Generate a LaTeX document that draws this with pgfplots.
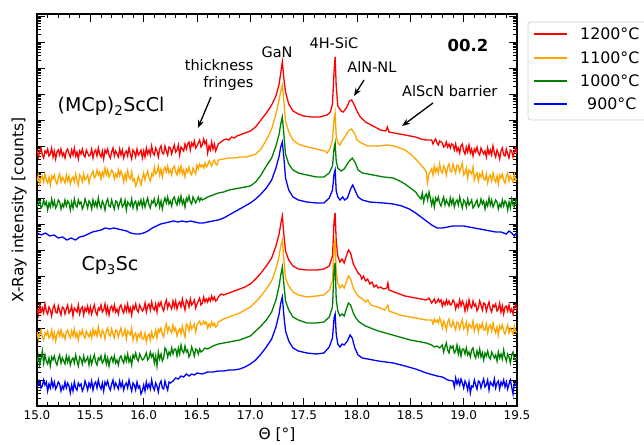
\documentclass[border=0pt]{standalone}
\usepackage{fontspec}
\setmainfont{DejaVu Sans}
\usepackage{pgfplots}
\pgfplotsset{compat=1.18}
\usetikzlibrary{arrows.meta}
\definecolor{cred}{RGB}{255,0,0}
\definecolor{corange}{RGB}{255,165,0}
\definecolor{cgreen}{RGB}{0,128,0}
\definecolor{cblue}{RGB}{0,0,255}

% (MCp)2ScCl, 1200 C
\pgfplotstableread[row sep=\\]{x y\\
15.0000 256\\15.0125 249\\15.0250 254\\15.0375 258\\15.0500 251\\15.0625 248\\15.0750 255\\15.0875 253\\
15.1000 257\\15.1125 250\\15.1250 252\\15.1375 258\\15.1500 249\\15.1625 255\\15.1750 247\\15.1875 254\\
15.2000 256\\15.2125 251\\15.2250 257\\15.2375 250\\15.2500 253\\15.2625 248\\15.2750 255\\15.2875 257\\
15.3000 252\\15.3125 249\\15.3250 256\\15.3375 251\\15.3500 258\\15.3625 250\\15.3750 254\\15.3875 247\\
15.4000 255\\15.4125 252\\15.4250 257\\15.4375 251\\15.4500 249\\15.4625 256\\15.4750 253\\15.4875 250\\
15.5000 251\\15.5125 257\\15.5250 248\\15.5375 254\\15.5500 256\\15.5625 250\\15.5750 258\\15.5875 252\\
15.6000 249\\15.6125 255\\15.6250 247\\15.6375 256\\15.6500 253\\15.6625 257\\15.6750 251\\15.6875 248\\
15.7000 254\\15.7125 258\\15.7250 250\\15.7375 255\\15.7500 252\\15.7625 249\\15.7750 257\\15.7875 251\\
15.8000 256\\15.8125 248\\15.8250 253\\15.8375 255\\15.8500 250\\15.8625 258\\15.8750 252\\15.8875 247\\
15.9000 256\\15.9125 254\\15.9250 249\\15.9375 257\\15.9500 251\\15.9625 253\\15.9750 256\\15.9875 248\\
16.0000 255\\16.0125 249\\16.0250 258\\16.0375 252\\16.0500 256\\16.0625 251\\16.0750 260\\16.0875 253\\
16.1000 251\\16.1125 258\\16.1250 255\\16.1375 249\\16.1500 257\\16.1625 260\\16.1750 253\\16.1875 252\\
16.2000 260\\16.2125 255\\16.2250 251\\16.2375 259\\16.2500 258\\16.2625 252\\16.2750 257\\16.2875 261\\
16.3000 254\\16.3125 256\\16.3250 261\\16.3375 251\\16.3500 259\\16.3625 257\\16.3750 255\\16.3875 262\\
16.4000 257\\16.4125 262\\16.4250 264\\16.4375 256\\16.4500 263\\16.4625 260\\16.4750 265\\16.4875 258\\
16.5000 260\\16.5125 263\\16.5250 266\\16.5375 259\\16.5500 261\\16.5625 267\\16.5750 262\\16.5875 265\\
16.6000 253\\16.6125 260\\16.6250 256\\16.6375 264\\16.6500 257\\16.6625 262\\
16.675 255\\16.700 262\\16.725 264\\16.750 266\\16.775 267\\16.800 266\\16.825 269\\16.850 268\\
16.875 270\\16.900 271\\16.950 273\\17.000 275\\17.050 279\\17.100 286\\17.150 293\\17.200 301\\
17.240 310\\17.270 322\\17.285 333\\17.300 344\\17.315 327\\17.330 314\\17.360 302\\17.400 295\\
17.450 292\\17.500 290\\17.570 289\\17.650 289\\17.720 291\\17.750 294\\17.770 302\\17.785 335\\
17.795 349\\17.805 320\\17.820 300\\17.850 295\\17.870 294\\17.900 298\\17.930 305\\17.950 306\\
17.970 302\\18.000 295\\18.030 289\\18.080 284\\18.150 280\\18.220 276\\18.270 275\\18.285 279\\
18.300 274\\18.350 273\\18.400 272\\18.450 271\\18.500 270\\18.550 269\\18.600 267\\18.650 266\\
18.7000 266\\18.7125 262\\18.7250 265\\18.7375 267\\18.7500 263\\18.7625 261\\18.7750 265\\18.7875 264\\
18.8000 263\\18.8125 259\\18.8250 260\\18.8375 264\\18.8500 259\\18.8625 262\\18.8750 258\\18.8875 262\\
18.9000 261\\18.9125 256\\18.9250 262\\18.9375 255\\18.9500 258\\18.9625 253\\18.9750 260\\18.9875 262\\
19.0000 255\\19.0125 252\\19.0250 259\\19.0375 254\\19.0500 261\\19.0625 253\\19.0750 257\\19.0875 250\\
19.1000 257\\19.1125 254\\19.1250 259\\19.1375 253\\19.1500 251\\19.1625 258\\19.1750 255\\19.1875 252\\
19.2000 255\\19.2125 249\\19.2250 258\\19.2375 252\\19.2500 256\\19.2625 251\\19.2750 260\\19.2875 253\\
19.3000 249\\19.3125 256\\19.3250 253\\19.3375 247\\19.3500 255\\19.3625 258\\19.3750 251\\19.3875 250\\
19.4000 257\\19.4125 252\\19.4250 248\\19.4375 256\\19.4500 255\\19.4625 249\\19.4750 254\\19.4875 258\\
19.5000 252\\
}\redA

% (MCp)2ScCl, 1100 C
\pgfplotstableread[row sep=\\]{x y\\
15.0000 225\\15.0125 231\\15.0250 222\\15.0375 228\\15.0500 230\\15.0625 224\\15.0750 232\\15.0875 226\\
15.1000 223\\15.1125 229\\15.1250 221\\15.1375 230\\15.1500 227\\15.1625 231\\15.1750 225\\15.1875 222\\
15.2000 228\\15.2125 232\\15.2250 224\\15.2375 229\\15.2500 226\\15.2625 223\\15.2750 231\\15.2875 225\\
15.3000 230\\15.3125 222\\15.3250 227\\15.3375 229\\15.3500 224\\15.3625 232\\15.3750 226\\15.3875 221\\
15.4000 231\\15.4125 229\\15.4250 224\\15.4375 232\\15.4500 226\\15.4625 228\\15.4750 231\\15.4875 223\\
15.5000 229\\15.5125 232\\15.5250 235\\15.5375 228\\15.5500 230\\15.5625 236\\15.5750 231\\15.5875 234\\
15.6000 227\\15.6125 234\\15.6250 230\\15.6375 238\\15.6500 231\\15.6625 236\\15.6750 229\\15.6875 232\\
15.7000 236\\15.7125 234\\15.7250 227\\15.7375 232\\15.7500 229\\15.7625 236\\15.7750 230\\15.7875 235\\
15.8000 231\\15.8125 224\\15.8250 232\\15.8375 226\\15.8500 235\\15.8625 229\\15.8750 227\\15.8875 234\\
15.9000 225\\15.9125 227\\15.9250 220\\15.9375 223\\15.9500 230\\15.9625 226\\15.9750 221\\15.9875 228\\
16.0000 233\\16.0125 226\\16.0250 231\\16.0375 235\\16.0500 228\\16.0625 225\\16.0750 232\\16.0875 230\\
16.1000 239\\16.1125 232\\16.1250 234\\16.1375 240\\16.1500 231\\16.1625 237\\16.1750 229\\16.1875 236\\
16.2000 239\\16.2125 234\\16.2250 240\\16.2375 233\\16.2500 236\\16.2625 231\\16.2750 238\\16.2875 240\\
16.3000 234\\16.3125 231\\16.3250 238\\16.3375 233\\16.3500 240\\16.3625 232\\16.3750 236\\16.3875 229\\
16.4000 237\\16.4125 234\\16.4250 239\\16.4375 233\\16.4500 231\\16.4625 238\\16.4750 235\\16.4875 232\\
16.5000 241\\16.5125 237\\16.5250 242\\16.5375 239\\16.5500 241\\16.5625 238\\16.5750 243\\16.5875 239\\
16.6000 241\\16.6125 245\\16.6250 243\\16.6375 240\\16.6500 244\\16.6625 246\\16.6750 242\\16.6875 241\\
16.700 246\\16.750 247\\16.800 248\\16.850 248\\16.900 249\\16.950 249\\17.000 250\\17.050 252\\
17.100 257\\17.150 266\\17.200 277\\17.240 292\\17.270 306\\17.285 315\\17.300 321\\17.315 304\\
17.330 285\\17.360 274\\17.400 266\\17.450 262\\17.500 260\\17.580 258\\17.660 256\\17.700 255\\
17.720 253\\17.750 258\\17.770 266\\17.785 287\\17.795 293\\17.805 270\\17.820 263\\17.840 261\\
17.860 265\\17.880 268\\17.920 275\\17.950 277\\17.980 272\\18.000 266\\18.040 263\\18.100 260\\
18.200 260\\18.280 261\\18.350 260\\18.450 256\\18.500 252\\18.550 247\\18.600 241\\18.625 238\\
18.650 234\\18.660 223\\18.675 232\\
18.7000 237\\18.7125 231\\18.7250 240\\18.7375 234\\18.7500 238\\18.7625 233\\18.7750 242\\18.7875 235\\
18.8000 233\\18.8125 240\\18.8250 237\\18.8375 231\\18.8500 239\\18.8625 242\\18.8750 235\\18.8875 234\\
18.9000 242\\18.9125 237\\18.9250 233\\18.9375 241\\18.9500 240\\18.9625 234\\18.9750 239\\18.9875 243\\
19.0000 231\\19.0125 233\\19.0250 238\\19.0375 228\\19.0500 236\\19.0625 234\\19.0750 232\\19.0875 239\\
19.1000 226\\19.1125 231\\19.1250 233\\19.1375 225\\19.1500 232\\19.1625 229\\19.1750 234\\19.1875 227\\
19.2000 226\\19.2125 232\\19.2250 223\\19.2375 229\\19.2500 231\\19.2625 225\\19.2750 233\\19.2875 227\\
19.3000 224\\19.3125 230\\19.3250 222\\19.3375 231\\19.3500 228\\19.3625 232\\19.3750 226\\19.3875 223\\
19.4000 229\\19.4125 233\\19.4250 225\\19.4375 230\\19.4500 227\\19.4625 224\\19.4750 232\\19.4875 226\\
19.5000 227\\
}\orangeA

% (MCp)2ScCl, 1000 C
\pgfplotstableread[row sep=\\]{x y\\
15.0000 199\\15.0125 202\\15.0250 205\\15.0375 198\\15.0500 200\\15.0625 206\\15.0750 201\\15.0875 204\\
15.1000 196\\15.1125 203\\15.1250 199\\15.1375 207\\15.1500 200\\15.1625 205\\15.1750 198\\15.1875 201\\
15.2000 206\\15.2125 204\\15.2250 197\\15.2375 202\\15.2500 199\\15.2625 206\\15.2750 200\\15.2875 205\\
15.3000 203\\15.3125 196\\15.3250 204\\15.3375 198\\15.3500 207\\15.3625 201\\15.3750 199\\15.3875 206\\
15.4000 202\\15.4125 204\\15.4250 197\\15.4375 200\\15.4500 207\\15.4625 203\\15.4750 198\\15.4875 205\\
15.5000 203\\15.5125 197\\15.5250 206\\15.5375 200\\15.5500 204\\15.5625 199\\15.5750 208\\15.5875 201\\
15.6000 198\\15.6125 205\\15.6250 202\\15.6375 196\\15.6500 204\\15.6625 207\\15.6750 200\\15.6875 199\\
15.7000 206\\15.7125 201\\15.7250 197\\15.7375 205\\15.7500 204\\15.7625 198\\15.7750 203\\15.7875 207\\
15.8000 199\\15.8125 201\\15.8250 206\\15.8375 196\\15.8500 204\\15.8625 202\\15.8750 200\\15.8875 207\\
15.9000 198\\15.9125 203\\15.9250 205\\15.9375 197\\15.9500 204\\15.9625 201\\15.9750 206\\15.9875 199\\
16.0000 206\\16.0125 199\\16.0250 204\\16.0375 208\\16.0500 201\\16.0625 198\\16.0750 205\\16.0875 203\\
16.1000 207\\16.1125 200\\16.1250 202\\16.1375 208\\16.1500 199\\16.1625 205\\16.1750 197\\16.1875 204\\
16.2000 208\\16.2125 203\\16.2250 209\\16.2375 202\\16.2500 205\\16.2625 200\\16.2750 207\\16.2875 209\\
16.3000 204\\16.3125 201\\16.3250 208\\16.3375 203\\16.3500 210\\16.3625 202\\16.3750 206\\16.3875 199\\
16.4000 208\\16.4125 205\\16.4250 210\\16.4375 204\\16.4500 202\\16.4625 209\\16.4750 206\\16.4875 203\\
16.5000 206\\16.5125 209\\16.5250 205\\16.5375 208\\
16.550 206\\16.600 209\\16.650 211\\16.700 213\\16.750 214\\16.800 216\\16.850 217\\16.900 218\\
16.950 219\\17.000 220\\17.050 224\\17.100 231\\17.150 240\\17.200 248\\17.240 260\\17.270 272\\
17.285 282\\17.300 289\\17.315 271\\17.330 252\\17.360 242\\17.400 236\\17.450 233\\17.530 231\\
17.620 229\\17.690 229\\17.740 233\\17.770 240\\17.785 258\\17.795 263\\17.805 245\\17.820 238\\
17.850 235\\17.880 237\\17.920 244\\17.955 248\\17.985 243\\18.010 236\\18.050 233\\18.150 231\\
18.250 229\\18.340 228\\18.400 225\\18.450 222\\18.500 218\\18.550 214\\18.575 210\\
18.6000 207\\18.6125 213\\18.6250 204\\18.6375 210\\18.6500 212\\18.6625 206\\18.6750 214\\18.6875 208\\
18.7000 201\\18.7125 207\\18.7250 199\\18.7375 208\\18.7500 205\\18.7625 209\\18.7750 203\\18.7875 200\\
18.8000 205\\18.8125 209\\18.8250 201\\18.8375 206\\18.8500 203\\18.8625 200\\18.8750 208\\18.8875 202\\
18.9000 207\\18.9125 199\\18.9250 204\\18.9375 206\\18.9500 201\\18.9625 209\\18.9750 203\\18.9875 198\\
19.0000 206\\19.0125 204\\19.0250 199\\19.0375 207\\19.0500 201\\19.0625 203\\19.0750 206\\19.0875 198\\
19.1000 200\\19.1125 203\\19.1250 206\\19.1375 199\\19.1500 201\\19.1625 207\\19.1750 202\\19.1875 205\\
19.2000 197\\19.2125 204\\19.2250 200\\19.2375 208\\19.2500 201\\19.2625 206\\19.2750 199\\19.2875 202\\
19.3000 206\\19.3125 204\\19.3250 197\\19.3375 202\\19.3500 199\\19.3625 206\\19.3750 200\\19.3875 205\\
19.4000 203\\19.4125 196\\19.4250 204\\19.4375 198\\19.4500 207\\19.4625 201\\19.4750 199\\19.4875 206\\
19.5000 202\\
}\greenA

% (MCp)2ScCl, 900 C
\pgfplotstableread[row sep=\\]{x y\\
15.000 173\\15.040 171\\15.080 173\\15.120 170\\15.160 171\\15.200 168\\15.240 169\\15.280 166\\
15.320 168\\15.360 166\\15.400 169\\15.440 170\\15.480 172\\15.520 174\\15.560 175\\15.600 176\\
15.640 178\\15.680 177\\15.720 178\\15.760 177\\15.800 176\\15.840 175\\15.880 173\\15.920 172\\
15.960 172\\16.000 173\\16.040 175\\16.080 178\\16.120 180\\16.160 182\\16.200 183\\16.240 184\\
16.280 185\\16.320 184\\16.360 185\\16.400 184\\16.440 185\\16.480 184\\16.520 183\\16.560 183\\
16.600 184\\16.650 185\\16.700 186\\16.750 188\\16.800 191\\16.850 194\\16.900 197\\16.950 200\\
17.000 203\\17.050 207\\17.100 212\\17.150 218\\17.200 226\\17.240 238\\17.270 250\\17.285 259\\
17.300 264\\17.315 248\\17.330 228\\17.360 216\\17.400 209\\17.450 206\\17.530 204\\17.620 203\\
17.690 203\\17.740 208\\17.770 216\\17.785 232\\17.795 236\\17.805 215\\17.820 209\\17.840 206\\
17.865 209\\17.885 206\\17.910 208\\17.940 217\\17.960 221\\17.985 215\\18.010 209\\18.050 206\\
18.120 204\\18.250 203\\18.340 202\\18.420 200\\18.490 197\\18.550 193\\18.600 189\\18.650 185\\
18.700 181\\18.750 178\\18.800 178\\18.850 179\\18.900 180\\18.950 180\\19.000 180\\19.050 179\\
19.100 178\\19.150 177\\19.200 176\\19.250 175\\19.300 174\\19.350 174\\19.400 172\\19.425 175\\
19.450 173\\19.475 170\\19.500 174\\
}\blueA

% Cp3Sc, 1200 C
\pgfplotstableread[row sep=\\]{x y\\
15.0000 97\\15.0125 91\\15.0250 100\\15.0375 94\\15.0500 98\\15.0625 93\\15.0750 102\\15.0875 95\\
15.1000 92\\15.1125 99\\15.1250 96\\15.1375 90\\15.1500 98\\15.1625 101\\15.1750 94\\15.1875 93\\
15.2000 100\\15.2125 95\\15.2250 91\\15.2375 99\\15.2500 98\\15.2625 92\\15.2750 97\\15.2875 101\\
15.3000 93\\15.3125 95\\15.3250 100\\15.3375 90\\15.3500 98\\15.3625 96\\15.3750 94\\15.3875 101\\
15.4000 92\\15.4125 97\\15.4250 99\\15.4375 91\\15.4500 98\\15.4625 95\\15.4750 100\\15.4875 93\\
15.5000 99\\15.5125 92\\15.5250 97\\15.5375 101\\15.5500 94\\15.5625 91\\15.5750 98\\15.5875 96\\
15.6000 101\\15.6125 94\\15.6250 96\\15.6375 102\\15.6500 93\\15.6625 99\\15.6750 91\\15.6875 98\\
15.7000 100\\15.7125 95\\15.7250 101\\15.7375 94\\15.7500 97\\15.7625 92\\15.7750 99\\15.7875 101\\
15.8000 96\\15.8125 93\\15.8250 100\\15.8375 95\\15.8500 102\\15.8625 94\\15.8750 98\\15.8875 91\\
15.9000 100\\15.9125 97\\15.9250 102\\15.9375 96\\15.9500 94\\15.9625 101\\15.9750 98\\15.9875 95\\
16.0000 97\\16.0125 103\\16.0250 94\\16.0375 100\\16.0500 102\\16.0625 96\\16.0750 104\\16.0875 98\\
16.1000 96\\16.1125 102\\16.1250 94\\16.1375 103\\16.1500 100\\16.1625 104\\16.1750 98\\16.1875 95\\
16.2000 102\\16.2125 106\\16.2250 98\\16.2375 103\\16.2500 100\\16.2625 97\\16.2750 105\\16.2875 99\\
16.3000 105\\16.3125 97\\16.3250 102\\16.3375 104\\16.3500 99\\16.3625 107\\16.3750 101\\16.3875 96\\
16.4000 106\\16.4125 104\\16.4250 99\\16.4375 107\\16.4500 101\\16.4625 103\\16.4750 106\\16.4875 98\\
16.5000 102\\16.5125 105\\16.5250 108\\16.5375 101\\16.5500 103\\16.5625 109\\16.5750 104\\16.5875 107\\
16.6000 104\\16.6125 108\\16.6250 105\\16.6375 110\\16.6500 106\\16.6625 109\\16.6750 105\\16.6875 106\\
16.700 109\\16.725 112\\16.750 111\\16.800 113\\16.850 115\\16.900 117\\16.950 119\\17.000 122\\
17.050 127\\17.100 133\\17.150 140\\17.200 148\\17.240 160\\17.270 172\\17.285 182\\17.300 190\\
17.315 171\\17.330 155\\17.360 146\\17.400 140\\17.450 137\\17.530 136\\17.620 136\\17.690 137\\
17.740 140\\17.770 150\\17.785 185\\17.795 193\\17.805 165\\17.820 150\\17.840 144\\17.860 147\\
17.880 143\\17.900 150\\17.920 156\\17.940 153\\17.965 142\\17.990 137\\18.010 133\\18.030 131\\
18.045 127\\18.060 130\\18.080 125\\18.100 127\\18.120 122\\18.140 124\\18.160 119\\18.180 121\\
18.200 118\\18.220 119\\18.250 117\\18.280 118\\18.290 123\\18.300 116\\18.350 114\\18.400 112\\
18.450 110\\18.500 109\\18.550 108\\18.600 107\\18.650 106\\18.675 108\\
18.7000 103\\18.7125 105\\18.7250 107\\18.7375 103\\18.7500 104\\18.7625 107\\18.7750 104\\18.7875 106\\
18.8000 100\\18.8125 104\\18.8250 101\\18.8375 106\\18.8500 102\\18.8625 105\\18.8750 101\\18.8875 102\\
18.9000 106\\18.9125 104\\18.9250 97\\18.9375 102\\18.9500 99\\18.9625 106\\18.9750 100\\18.9875 105\\
19.0000 102\\19.0125 95\\19.0250 103\\19.0375 97\\19.0500 106\\19.0625 100\\19.0750 98\\19.0875 105\\
19.1000 100\\19.1125 102\\19.1250 95\\19.1375 98\\19.1500 105\\19.1625 101\\19.1750 96\\19.1875 103\\
19.2000 102\\19.2125 95\\19.2250 100\\19.2375 104\\19.2500 97\\19.2625 94\\19.2750 101\\19.2875 99\\
19.3000 102\\19.3125 95\\19.3250 97\\19.3375 103\\19.3500 94\\19.3625 100\\19.3750 92\\19.3875 99\\
19.4000 100\\19.4125 95\\19.4250 101\\19.4375 94\\19.4500 97\\19.4625 92\\19.4750 99\\19.4875 101\\
19.5000 95\\
}\redB

% Cp3Sc, 1100 C
\pgfplotstableread[row sep=\\]{x y\\
15.0000 74\\15.0125 67\\15.0250 72\\15.0375 76\\15.0500 69\\15.0625 66\\15.0750 73\\15.0875 71\\
15.1000 75\\15.1125 68\\15.1250 70\\15.1375 76\\15.1500 67\\15.1625 73\\15.1750 65\\15.1875 72\\
15.2000 75\\15.2125 70\\15.2250 76\\15.2375 69\\15.2500 72\\15.2625 67\\15.2750 74\\15.2875 76\\
15.3000 71\\15.3125 68\\15.3250 75\\15.3375 70\\15.3500 77\\15.3625 69\\15.3750 73\\15.3875 66\\
15.4000 74\\15.4125 71\\15.4250 76\\15.4375 70\\15.4500 68\\15.4625 75\\15.4750 72\\15.4875 69\\
15.5000 74\\15.5125 68\\15.5250 77\\15.5375 71\\15.5500 75\\15.5625 70\\15.5750 79\\15.5875 72\\
15.6000 69\\15.6125 76\\15.6250 73\\15.6375 67\\15.6500 75\\15.6625 78\\15.6750 71\\15.6875 70\\
15.7000 77\\15.7125 72\\15.7250 68\\15.7375 76\\15.7500 75\\15.7625 69\\15.7750 74\\15.7875 78\\
15.8000 70\\15.8125 72\\15.8250 77\\15.8375 67\\15.8500 75\\15.8625 73\\15.8750 71\\15.8875 78\\
15.9000 66\\15.9125 71\\15.9250 73\\15.9375 65\\15.9500 72\\15.9625 69\\15.9750 74\\15.9875 67\\
16.0000 67\\16.0125 73\\16.0250 64\\16.0375 70\\16.0500 72\\16.0625 66\\16.0750 74\\16.0875 68\\
16.1000 70\\16.1125 76\\16.1250 68\\16.1375 77\\16.1500 74\\16.1625 78\\16.1750 72\\16.1875 69\\
16.2000 78\\16.2125 82\\16.2250 74\\16.2375 79\\16.2500 76\\16.2625 73\\16.2750 81\\16.2875 75\\
16.3000 78\\16.3125 70\\16.3250 75\\16.3375 77\\16.3500 72\\16.3625 80\\16.3750 74\\16.3875 69\\
16.4000 82\\16.4125 80\\16.4250 75\\16.4375 83\\16.4500 77\\16.4625 79\\16.4750 82\\16.4875 74\\
16.5000 81\\16.5125 83\\16.5250 85\\16.5375 81\\16.5500 82\\16.5625 85\\16.5750 82\\16.5875 84\\
16.6000 78\\16.6125 82\\16.6250 79\\16.6375 84\\16.6500 80\\16.6625 83\\16.6750 79\\16.6875 80\\
16.700 84\\16.750 87\\16.800 89\\16.850 91\\16.900 93\\16.950 96\\17.000 99\\17.050 104\\
17.100 110\\17.150 117\\17.200 125\\17.240 137\\17.270 150\\17.285 160\\17.300 166\\17.315 145\\
17.330 128\\17.360 120\\17.400 114\\17.450 111\\17.530 109\\17.620 110\\17.690 111\\17.740 116\\
17.770 125\\17.785 160\\17.795 166\\17.805 135\\17.820 123\\17.840 118\\17.860 121\\17.880 118\\
17.900 124\\17.920 130\\17.940 127\\17.965 118\\17.990 113\\18.020 109\\18.050 107\\18.080 104\\
18.100 106\\18.130 101\\18.160 100\\18.190 99\\18.220 98\\18.260 96\\18.290 101\\18.300 95\\
18.350 93\\18.400 91\\18.450 90\\18.500 89\\18.550 88\\18.600 87\\18.650 86\\
18.7000 86\\18.7125 82\\18.7250 87\\18.7375 84\\18.7500 86\\18.7625 83\\18.7750 88\\18.7875 84\\
18.8000 78\\18.8125 85\\18.8250 82\\18.8375 76\\18.8500 84\\18.8625 87\\18.8750 80\\18.8875 79\\
18.9000 85\\18.9125 80\\18.9250 76\\18.9375 84\\18.9500 83\\18.9625 77\\18.9750 82\\18.9875 86\\
19.0000 77\\19.0125 79\\19.0250 84\\19.0375 74\\19.0500 82\\19.0625 80\\19.0750 78\\19.0875 85\\
19.1000 75\\19.1125 80\\19.1250 82\\19.1375 74\\19.1500 81\\19.1625 78\\19.1750 83\\19.1875 76\\
19.2000 76\\19.2125 82\\19.2250 73\\19.2375 79\\19.2500 81\\19.2625 75\\19.2750 83\\19.2875 77\\
19.3000 73\\19.3125 79\\19.3250 71\\19.3375 80\\19.3500 77\\19.3625 81\\19.3750 75\\19.3875 72\\
19.4000 77\\19.4125 81\\19.4250 73\\19.4375 78\\19.4500 75\\19.4625 72\\19.4750 80\\19.4875 74\\
19.5000 74\\
}\orangeB

% Cp3Sc, 1000 C
\pgfplotstableread[row sep=\\]{x y\\
15.0000 44\\15.0125 50\\15.0250 41\\15.0375 47\\15.0500 55\\15.0625 43\\15.0750 51\\15.0875 45\\
15.1000 42\\15.1125 48\\15.1250 40\\15.1375 49\\15.1500 46\\15.1625 50\\15.1750 44\\15.1875 41\\
15.2000 47\\15.2125 51\\15.2250 43\\15.2375 48\\15.2500 45\\15.2625 42\\15.2750 50\\15.2875 44\\
15.3000 49\\15.3125 41\\15.3250 46\\15.3375 48\\15.3500 43\\15.3625 51\\15.3750 45\\15.3875 40\\
15.4000 49\\15.4125 47\\15.4250 42\\15.4375 50\\15.4500 44\\15.4625 46\\15.4750 49\\15.4875 41\\
15.5000 49\\15.5125 42\\15.5250 47\\15.5375 51\\15.5500 44\\15.5625 41\\15.5750 48\\15.5875 46\\
15.6000 50\\15.6125 43\\15.6250 45\\15.6375 51\\15.6500 42\\15.6625 48\\15.6750 40\\15.6875 47\\
15.7000 49\\15.7125 44\\15.7250 50\\15.7375 43\\15.7500 46\\15.7625 41\\15.7750 48\\15.7875 50\\
15.8000 46\\15.8125 43\\15.8250 50\\15.8375 45\\15.8500 52\\15.8625 44\\15.8750 48\\15.8875 41\\
15.9000 51\\15.9125 48\\15.9250 53\\15.9375 47\\15.9500 45\\15.9625 52\\15.9750 49\\15.9875 46\\
16.0000 47\\16.0125 50\\16.0250 53\\16.0375 46\\16.0500 48\\16.0625 54\\16.0750 49\\16.0875 52\\
16.1000 43\\16.1125 50\\16.1250 40\\16.1375 54\\16.1500 47\\16.1625 52\\16.1750 45\\16.1875 48\\
16.2000 58\\16.2125 56\\16.2250 49\\16.2375 54\\16.2500 51\\16.2625 58\\16.2750 52\\16.2875 57\\
16.3000 57\\16.3125 50\\16.3250 58\\16.3375 52\\16.3500 61\\16.3625 55\\16.3750 53\\16.3875 60\\
16.4000 54\\16.4125 56\\16.4250 49\\16.4375 52\\16.4500 59\\16.4625 55\\16.4750 50\\16.4875 57\\
16.5000 56\\16.5125 52\\16.5250 57\\16.5375 54\\
16.550 55\\16.575 58\\16.600 57\\16.650 60\\16.700 62\\16.750 63\\16.800 64\\16.850 65\\
16.900 66\\16.950 68\\17.000 70\\17.050 75\\17.100 80\\17.150 86\\17.200 94\\17.240 106\\
17.270 120\\17.285 131\\17.300 139\\17.315 121\\17.330 105\\17.360 96\\17.400 89\\17.450 86\\
17.530 83\\17.620 83\\17.690 84\\17.740 89\\17.770 99\\17.785 136\\17.795 143\\17.805 107\\
17.820 95\\17.840 90\\17.860 92\\17.880 90\\17.900 97\\17.920 103\\17.940 101\\17.965 93\\
17.990 88\\18.020 84\\18.080 80\\18.150 77\\18.200 75\\18.300 72\\18.400 69\\18.500 66\\
18.600 64\\18.650 63\\18.700 61\\18.725 59\\18.750 60\\18.775 58\\
18.8000 61\\18.8125 54\\18.8250 59\\18.8375 63\\18.8500 56\\18.8625 53\\18.8750 60\\18.8875 58\\
18.9000 60\\18.9125 53\\18.9250 55\\18.9375 61\\18.9500 52\\18.9625 58\\18.9750 50\\18.9875 57\\
19.0000 57\\19.0125 52\\19.0250 58\\19.0375 51\\19.0500 54\\19.0625 49\\19.0750 56\\19.0875 58\\
19.1000 51\\19.1125 48\\19.1250 55\\19.1375 50\\19.1500 57\\19.1625 49\\19.1750 53\\19.1875 46\\
19.2000 53\\19.2125 50\\19.2250 55\\19.2375 49\\19.2500 47\\19.2625 54\\19.2750 51\\19.2875 48\\
19.3000 51\\19.3125 45\\19.3250 54\\19.3375 48\\19.3500 52\\19.3625 47\\19.3750 56\\19.3875 49\\
19.4000 45\\19.4125 52\\19.4250 49\\19.4375 43\\19.4500 51\\19.4625 54\\19.4750 47\\19.4875 46\\
19.5000 48\\
}\greenB

% Cp3Sc, 900 C
\pgfplotstableread[row sep=\\]{x y\\
15.0000 19\\15.0125 22\\15.0250 25\\15.0375 18\\15.0500 20\\15.0625 26\\15.0750 21\\15.0875 24\\
15.1000 15\\15.1125 22\\15.1250 18\\15.1375 26\\15.1500 19\\15.1625 24\\15.1750 17\\15.1875 20\\
15.2000 24\\15.2125 22\\15.2250 15\\15.2375 20\\15.2500 17\\15.2625 24\\15.2750 18\\15.2875 23\\
15.3000 20\\15.3125 13\\15.3250 21\\15.3375 15\\15.3500 24\\15.3625 18\\15.3750 16\\15.3875 23\\
15.4000 20\\15.4125 22\\15.4250 15\\15.4375 18\\15.4500 25\\15.4625 21\\15.4750 16\\15.4875 23\\
15.5000 19\\15.5125 25\\15.5250 16\\15.5375 22\\15.5500 24\\15.5625 18\\15.5750 26\\15.5875 20\\
15.6000 17\\15.6125 23\\15.6250 15\\15.6375 24\\15.6500 21\\15.6625 25\\15.6750 19\\15.6875 16\\
15.7000 22\\15.7125 26\\15.7250 18\\15.7375 23\\15.7500 20\\15.7625 17\\15.7750 25\\15.7875 19\\
15.8000 24\\15.8125 16\\15.8250 21\\15.8375 23\\15.8500 18\\15.8625 26\\15.8750 20\\15.8875 15\\
15.9000 23\\15.9125 21\\15.9250 16\\15.9375 24\\15.9500 18\\15.9625 20\\15.9750 12\\15.9875 15\\
16.0000 21\\16.0125 15\\16.0250 24\\16.0375 18\\16.0500 22\\16.0625 17\\16.0750 26\\16.0875 19\\
16.1000 16\\16.1125 23\\16.1250 20\\16.1375 14\\16.1500 22\\16.1625 25\\16.1750 18\\16.1875 17\\
16.2000 25\\16.2125 20\\16.2250 16\\16.2375 24\\
16.250 23\\16.275 25\\16.300 28\\16.325 27\\16.350 30\\16.375 29\\16.400 32\\16.425 30\\
16.450 32\\16.475 31\\16.500 33\\16.550 32\\16.600 34\\16.650 34\\16.700 35\\16.750 35\\
16.800 36\\16.850 36\\16.900 37\\16.950 39\\17.000 42\\17.050 46\\17.100 52\\17.150 59\\
17.200 67\\17.240 79\\17.270 92\\17.285 103\\17.300 109\\17.315 90\\17.330 75\\17.360 65\\
17.400 58\\17.450 55\\17.530 53\\17.620 52\\17.690 53\\17.740 59\\17.770 68\\17.785 88\\
17.795 92\\17.805 72\\17.820 62\\17.840 59\\17.860 62\\17.880 61\\17.910 65\\17.935 71\\
17.955 68\\17.980 58\\18.010 51\\18.050 48\\18.100 47\\18.200 45\\18.340 43\\18.450 40\\
18.550 37\\18.650 33\\18.750 30\\18.800 29\\18.850 26\\
18.9000 25\\18.9125 19\\18.9250 28\\18.9375 22\\18.9500 26\\18.9625 21\\18.9750 27\\18.9875 23\\
19.0000 18\\19.0125 25\\19.0250 22\\19.0375 16\\19.0500 24\\19.0625 13\\19.0750 20\\19.0875 19\\
19.1000 26\\19.1125 21\\19.1250 17\\19.1375 25\\19.1500 24\\19.1625 18\\19.1750 23\\19.1875 27\\
19.2000 19\\19.2125 21\\19.2250 26\\19.2375 16\\19.2500 24\\19.2625 22\\19.2750 20\\19.2875 27\\
19.3000 18\\19.3125 23\\19.3250 25\\19.3375 17\\19.3500 24\\19.3625 21\\19.3750 26\\19.3875 19\\
19.4000 24\\19.4125 17\\19.4250 22\\19.4375 26\\19.4500 19\\19.4625 12\\19.4750 23\\19.4875 21\\
19.5000 21\\
}\blueB

\begin{document}
\begin{tikzpicture}
\def\mtl{}%
\foreach \d in {0,...,14}{\foreach \k in {2,...,9}{\pgfmathsetmacro\v{26*\d+26*log10(\k)}\xdef\mtl{\mtl\v,}}}%
\xdef\mtl{\mtl 390}%
\begin{axis}[
  scale only axis,
  width=480pt, height=392pt,
  xmin=15, xmax=19.5, ymin=0, ymax=392,
  xtick={15,15.5,...,19.5},
  minor x tick num=4,
  ytick={0,26,...,390},
  minor ytick/.expanded={\mtl},
  yticklabels={},
  tick align=inside,
  major tick length=8pt,
  minor tick length=4pt,
  every tick/.style={black, line width=0.9pt},
  axis line style={line width=1.2pt},
  /pgf/number format/.cd, fixed, fixed zerofill, precision=1, assume math mode=true,
  /pgfplots/.cd,
  tick label style={font=\fontsize{12}{14}\selectfont},
  xticklabel style={yshift=-1pt},
  xlabel={Θ [°]},
  ylabel={X-Ray intensity [counts]},
  every axis x label/.style={at={(axis description cs:0.5,-0.074)}, anchor=center, font=\fontsize{15.5}{18}\selectfont},
  every axis y label/.style={at={(axis description cs:-0.0375,0.5)}, rotate=90, anchor=center, font=\fontsize{15.5}{18}\selectfont},
  every axis plot/.append style={line width=1.3pt},
]
\addplot[draw=cred] table[x=x,y=y] {\redA};
\addplot[draw=corange] table[x=x,y=y] {\orangeA};
\addplot[draw=cgreen] table[x=x,y=y] {\greenA};
\addplot[draw=cblue] table[x=x,y=y] {\blueA};
\addplot[draw=cred] table[x=x,y=y] {\redB};
\addplot[draw=corange] table[x=x,y=y] {\orangeB};
\addplot[draw=cgreen] table[x=x,y=y] {\greenB};
\addplot[draw=cblue] table[x=x,y=y] {\blueB};

\begin{scope}[font=\fontsize{14.5}{17}\selectfont]
\node at (axis cs:17.25,354) {GaN};
\node at (axis cs:17.784,363) {4H-SiC};
\node at (axis cs:18.14,339) {AlN-NL};
\node at (axis cs:18.87,315) {AlScN barrier};
\node[anchor=east, align=right, inner sep=0pt] at (axis cs:17.03,331) {thickness\\fringes};
\end{scope}
\node[font=\fontsize{16.5}{18}\selectfont\bfseries] at (axis cs:19.04,361) {00.2};
\node[font=\fontsize{19}{22}\selectfont] at (axis cs:15.694,300) {(MCp)\textsubscript{2}ScCl};
\node[font=\fontsize{19}{22}\selectfont] at (axis cs:15.684,140) {Cp\textsubscript{3}Sc};
\draw[line width=1.3pt, -{Stealth[length=8pt,width=6pt]}] (axis cs:16.631,309) -- (axis cs:16.509,278);
\draw[line width=1.3pt, -{Stealth[length=8pt,width=6pt]}] (axis cs:18.066,326) -- (axis cs:17.972,310);
\draw[line width=1.3pt, -{Stealth[length=8pt,width=6pt]}] (axis cs:18.712,303) -- (axis cs:18.422,280);
\end{axis}
% legend, placed in image pixel coordinates (origin top-left)
\begin{scope}[shift={(current axis.south west)}, xshift=-37pt, yshift=406pt, x=1pt, y=-1pt]
\draw[black!18, line width=0.8pt, fill=white, rounded corners=3pt] (528,22) rectangle (670,120);
\draw[cred, line width=1.4pt] (534,34) -- (567,34);
\draw[corange, line width=1.4pt] (534,58) -- (567,58);
\draw[cgreen, line width=1.4pt] (534,81) -- (567,81);
\draw[cblue, line width=1.4pt] (534,104) -- (567,104);
\begin{scope}[font=\fontsize{15.8}{18}\selectfont]
\node[anchor=base west, inner sep=0pt] at (580,39.8) {1200°C};
\node[anchor=base west, inner sep=0pt] at (580,63.8) {1100°C};
\node[anchor=base west, inner sep=0pt] at (580,86.8) {1000°C};
\node[anchor=base west, inner sep=0pt] at (587,109.8) {900°C};
\end{scope}
\end{scope}
\pgfresetboundingbox
\path[use as bounding box] (current axis.south west) ++(-37pt,-38pt) rectangle ++(644pt,444pt);
\end{tikzpicture}
\end{document}
